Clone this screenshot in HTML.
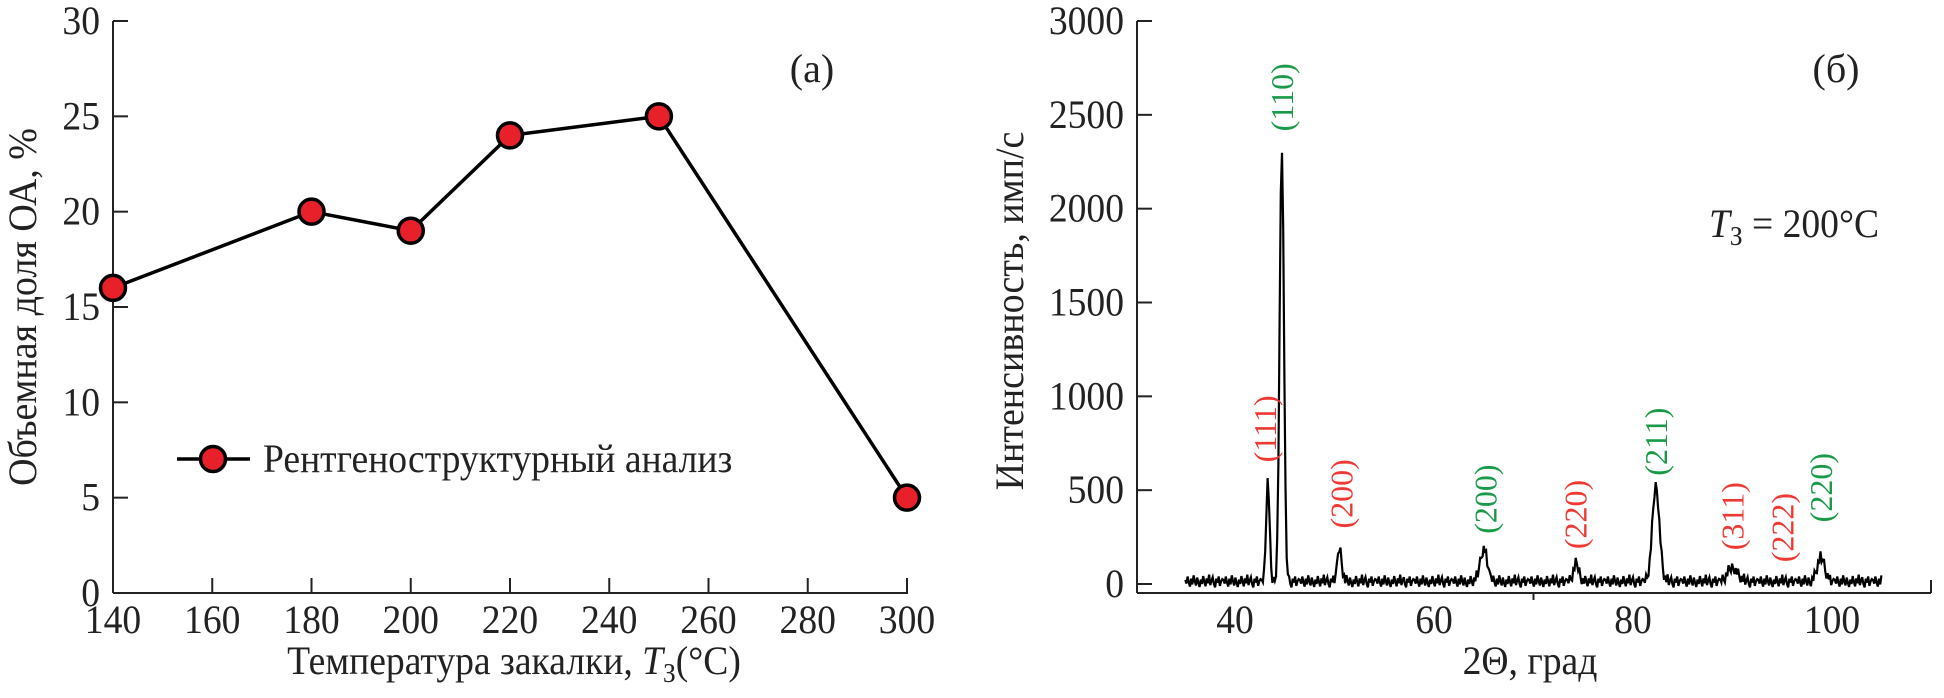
<!DOCTYPE html>
<html><head><meta charset="utf-8"><style>
body{margin:0;background:#fff}
svg{display:block;font-family:"Liberation Serif",serif}
</style></head><body>
<svg id="fig" width="1944" height="698" viewBox="0 0 1944 698">
<g id="left"></g>
<g id="right"></g>
</svg>
<script>
// Chart (a) data
const tempsA = [140,180,200,220,250,300];
const fractionA = [16,20,19,24,25,5];
const xTicksA = [140,160,180,200,220,240,260,280,300];
const yTicksA = [0,5,10,15,20,25,30];
// Chart (b) data
const peakPos = [43.3,44.7,50.5,65.0,74.3,82.3,90.0,98.9];
const peakHeight = [540,2320,170,175,95,510,75,125];
const peakWidth = [0.24,0.3,0.32,0.5,0.4,0.5,0.7,0.55];
const baseNoise = [22,2,40,8,-14,28,-2,46,15,-8,34,6,-16,24,0,42,12,-12,30,4,50,-6,18,36,0,-18,28,8,40,-10,14,26];
const xTicksB = [40,60,80,100];
const yTicksB = [0,500,1000,1500,2000,2500,3000];
const peakLabels = ["(111)","(110)","(200)","(200)","(220)","(211)","(311)","(222)","(220)"];
const labelPos = [43.0,44.7,50.7,65.2,74.2,82.3,90.0,95.0,98.9];
const labelTop = [1005,2775,665,637,555,940,543,485,698];
const labelPhase = ["g","a","g","a","g","a","g","g","a"];

const NS="http://www.w3.org/2000/svg";
function mk(parent,tag,attrs,text){const e=document.createElementNS(NS,tag);for(const k in attrs)e.setAttribute(k,attrs[k]);if(text!==undefined)e.textContent=text;parent.appendChild(e);return e;}
const sx=(x)=>`translate(${x},0) scale(0.94,1) translate(${-x},0)`;

// ---- Chart A ----
const A=document.getElementById('left');
const xA=v=>113+(v-140)*(794/160);
const yA=v=>593-v*(572/30);
let e;
e=mk(A,'line',{x1:113,y1:21,x2:113,y2:593,stroke:'#222','stroke-width':2});


e=mk(A,'line',{x1:113,y1:593,x2:908,y2:593,stroke:'#222','stroke-width':2});


xTicksA.forEach(t=>{
  e=mk(A,'line',{x1:xA(t),y1:593,x2:xA(t),y2:578,stroke:'#222','stroke-width':2});
  
  
  e=mk(A,'text',{x:xA(t),y:633,'font-size':40,'text-anchor':'middle',fill:'#222',transform:sx(xA(t))},t);
  
  
});
yTicksA.forEach(t=>{
  e=mk(A,'line',{x1:113,y1:yA(t),x2:128,y2:yA(t),stroke:'#222','stroke-width':2});
  
  
  e=mk(A,'text',{x:100,y:yA(t)+13,'font-size':40,'text-anchor':'end',fill:'#222',transform:sx(100)},t);
  
  
});
e=mk(A,'polyline',{points:tempsA.map((t,i)=>xA(t)+','+yA(fractionA[i])).join(' '),fill:'none',stroke:'#000','stroke-width':3.5});


tempsA.forEach((t,i)=>{
  e=mk(A,'circle',{cx:xA(t),cy:yA(fractionA[i]),r:12.5,fill:'#e8202a',stroke:'#000','stroke-width':3.5});
  
  
});
e=mk(A,'line',{x1:177,y1:459,x2:250,y2:459,stroke:'#000','stroke-width':3.5});


e=mk(A,'circle',{cx:213,cy:459,r:12.5,fill:'#e8202a',stroke:'#000','stroke-width':3.5});


e=mk(A,'text',{x:263,y:472,'font-size':40,fill:'#222',transform:sx(263)},'Рентгеноструктурный анализ');


e=mk(A,'text',{x:812,y:82,'font-size':40,'text-anchor':'middle',fill:'#222'},'(a)');


e=mk(A,'text',{x:514,y:674,'font-size':40,'text-anchor':'middle',fill:'#222',transform:sx(514)});
e.innerHTML='Температура закалки, <tspan font-style="italic">T</tspan><tspan font-size="27" dy="8">З</tspan><tspan dy="-8">(°C)</tspan>';


e=mk(A,'text',{x:0,y:0,'font-size':40,'text-anchor':'middle',fill:'#222',transform:'translate(36,307) rotate(-90) scale(0.95,1)'},'Объемная доля ОА, %');



// ---- Chart B ----
const B=document.getElementById('right');
const xB=v=>1235+(v-40)*(597/60);
const yB=v=>584-v*(563/3000);
e=mk(B,'line',{x1:1137,y1:21,x2:1137,y2:593,stroke:'#222','stroke-width':2});


e=mk(B,'line',{x1:1137,y1:593,x2:1931,y2:593,stroke:'#222','stroke-width':2});


e=mk(B,'line',{x1:1931,y1:593,x2:1931,y2:580,stroke:'#222','stroke-width':2});


xTicksB.forEach(t=>{
  e=mk(B,'text',{x:xB(t),y:633,'font-size':40,'text-anchor':'middle',fill:'#222',transform:sx(xB(t))},t);
  
  
});
e=mk(B,'line',{x1:xB(70),y1:593,x2:xB(70),y2:600,stroke:'#222','stroke-width':2});


yTicksB.forEach(t=>{
  e=mk(B,'line',{x1:1137,y1:yB(t),x2:1152,y2:yB(t),stroke:'#222','stroke-width':2});
  
  
  e=mk(B,'text',{x:1124,y:yB(t)+13,'font-size':40,'text-anchor':'end',fill:'#222',transform:sx(1124)},t);
  
  
});
// spectrum
let pts=[];let k=0;
for(let x=35;x<=105.001;x+=0.12){
  let v=baseNoise[k%baseNoise.length];k++;
  peakPos.forEach((p,i)=>{const d=(x-p)/peakWidth[i];v+=peakHeight[i]*Math.exp(-d*d);});
  pts.push(xB(x).toFixed(1)+','+yB(v).toFixed(1));
}
e=mk(B,'polyline',{points:pts.join(' '),fill:'none',stroke:'#000','stroke-width':2.2});


peakLabels.forEach((l,i)=>{
  const cx=xB(labelPos[i]), top=yB(labelTop[i]);
  e=mk(B,'text',{x:0,y:0,'font-size':32,'text-anchor':'end',fill:labelPhase[i]==='a'?'#1a9a48':'#ee3a33',transform:`translate(${cx+11},${top}) rotate(-90)`},l);
  
  
});
e=mk(B,'text',{x:1836,y:82,'font-size':40,'text-anchor':'middle',fill:'#222'},'(б)');


e=mk(B,'text',{x:1709,y:237,'font-size':40,fill:'#222',transform:sx(1709)});
e.innerHTML='<tspan font-style="italic">T</tspan><tspan font-size="27" dy="8">З</tspan><tspan dy="-8"> = 200°C</tspan>';


e=mk(B,'text',{x:1530,y:674,'font-size':40,'text-anchor':'middle',fill:'#222',transform:sx(1530)},'2Θ, град');


e=mk(B,'text',{x:0,y:0,'font-size':40,'text-anchor':'middle',fill:'#222',transform:'translate(1023,311) rotate(-90) scale(0.95,1)'},'Интенсивность, имп/с');


</script>
</body></html>
